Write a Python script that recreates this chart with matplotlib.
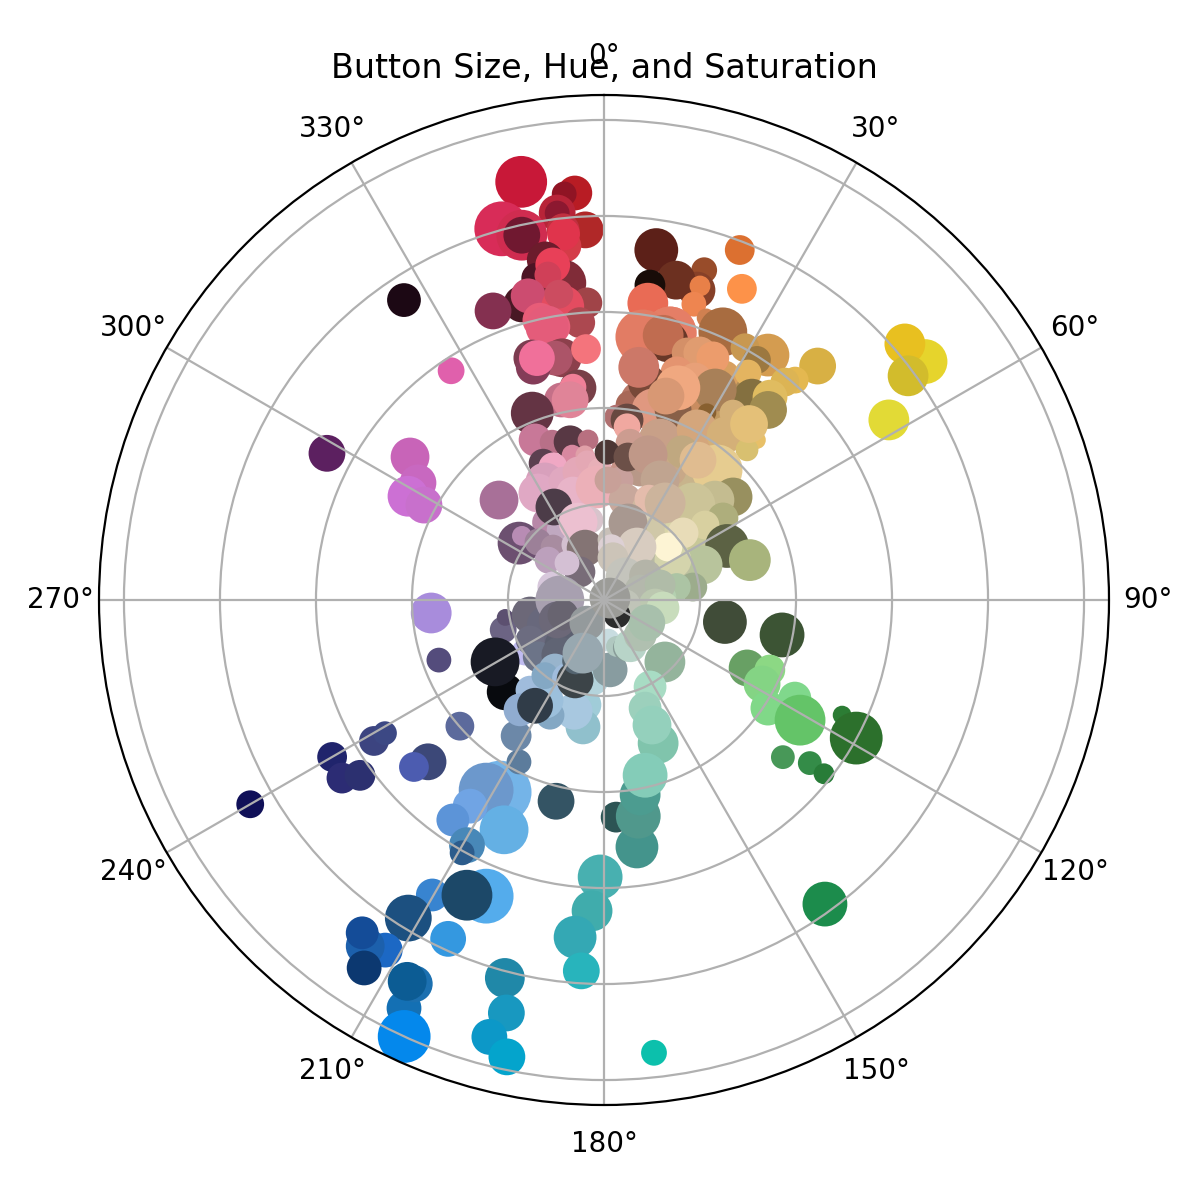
import numpy as np
import matplotlib
matplotlib.use("Agg")
import matplotlib.pyplot as plt

title = "Button Size, Hue, and Saturation"

reds_hue = [348.8, 355.9, 354.4, 353.1, 353.1, 344.6, 347.3, 357.1, 353.7, 347.3, 353.7, 353.7,
            350.2, 348.2, 352.6, 351.3, 350.2, 344.5, 339.0, 346.0, 356.7, 352.0, 351.6, 355.0,
            347.1, 349.4, 348.2, 350.2, 348.6, 343.4, 343.1, 344.5, 355.9, 326.3]
reds_sat = [.888, .85, .85, .812, .812, .802, .779, .772, .776, .779, .742, .767,
            .719, .685, .666, .706, .687, .64, .645, .653, .62, .617, .644, .58,
            .598, .579, .581, .512, .514, .526, .507, .523, .524, .751]
reds_size = [49, 32, 22, 34, 22, 52, 48, 34, 30, 34, 30, 30,
             34, 28, 44, 32, 24, 34, 34, 32, 28, 40, 26, 28,
             32, 32, 40, 36, 32, 34, 32, 33, 27, 31]
reds_color = ["#c81838", "#b81c24", "#901424", "#b82438", "#8c1830", "#d82c58", "#d02c50", "#b02828", "#c03040", "#701830", "#d43c48", "#e0344c",
              "#6c1c2c", "#4c1424", "#802c38", "#e84058", "#d04058", "#481824", "#843050", "#cc4c70", "#a04448", "#e44c60", "#cc4c60", "#ac4850",
              "#e85c78", "#e8607c", "#e45c7a", "#8c404c", "#ac5468", "#7c3c50", "#843c58", "#f0709a", "#f4747c", "#1c0814"]

pinks_hue = [306.4, 302.2, 297.9, 297.8, 297.9, 326.3, 353.0, 348.0, 351.7, 350.4, 339.0, 336.7, 341.8,
             347.9, 354.3, 347.6, 352.5, 336.0, 339.0, 333.4, 328.3, 341.0, 348.5, 353.0, 352.4, 358.2, 343.8, 356.5,
             313.6, 324.0, 327.9, 331.7, 303.8, 308.0, 311.3, 316.1, 305.5, 332.2, 350.0, 341.6, 340.0, 319.4, 315.0, 284.3]
pinks_sat = [.502, .458, .462, .424, .653, .574, .445, .426, .448, .423, .417, .363, .346,
             .337, .335, .309, .305, .312, .297, .275, .262, .262, .272, .29, .221, .271, .232, .236,
             .302, .2, .172, .22, .213, .217, .183, .153, .143, .13, .169, .171, .115, .077, .109, .11]
pinks_size = [36, 34, 38, 34, 34, 24, 34, 32, 24, 34, 40, 30, 22,
              30, 18, 18, 16, 26, 26, 36, 36, 26, 28, 20, 24, 22, 30, 40,
              36, 28, 24, 34, 40, 17, 24, 22, 24, 24, 24, 36, 34, 28, 22, 28]
pinks_color = ["#c864b8", "#c868c0", "#cc70d4", "#c870cc", "#5c2060", "#e060ac", "#784048", "#c47088", "#f08098", "#e08498", "#643444", "#c87898", "#b87088",
               "#583844", "#b87080", "#d888a0", "#e0a0a8", "#5c4050", "#f0a8c4", "#d8a0bc", "#e0a8c4", "#e0a8c0", "#e4a8b8", "#e4a8b4", "#d0a8a8", "#e8b0b8", "#e8b4c8", "#ecb0b8",
               "#a87098", "#b888a8", "#c0a8c0", "#4c3c48", "#6c5070", "#b88cb4", "#9c8098", "#a88ca0", "#bca0bc", "#d4c0d0", "#d8c4cc", "#ecc0d0", "#847474", "#786c78", "#d4c0d4", "#d8c8dc"]

under_orange_hue = [23.3, 31.4, 26.8, 10.2, 7.6, 12.4, 32.6, 28.3]
under_orange_sat = [.454, .464, .444, .423, .41, .448, .507, .532]
under_orange_size = [36, 34, 30, 36, 26, 30, 30, 26]
under_orange_color = ["#d09870", "#c09860", "#c88c60", "#b87868", "#a86858", "#c08470", "#b08c58", "#d8a060"]

oranges_hue = [53.4, 49.6, 53.6, 57.7, 42.4, 21.2, 23.9, 8.5, 16.9, 16.7, 12.7, 8.3, 17.0, 16.9, 8.4, 13.9,
               19.9, 23.9, 33.8, 29.2, 32.5, 41.0, 39.7, 32.4, 36.1, 39.3, 40.8, 13.9, 8.4, 13.9, 12.6,
               18.6, 21.2, 24.2, 17.8, 22.5, 27.9, 11.2, 8.5, 14.5, 20.0, 19.2, 16.9, 34.6, 43.7, 28.8]
oranges_sat = [.833, .823, .787, .702, .66, .782, .709, .737, .718, .674, .683, .663, .684, .644, .625, .573,
               .625, .611, .614, .602, .593, .607, .59, .56, .523, .546, .523, .573, .554, .554, .565,
               .543, .552, .553, .497, .496, .495, .461, .49, .409, .421, .468, .444, .473, .461, .445]
oranges_size = [42, 38, 38, 38, 34, 27, 27, 41, 23, 34, 36, 28, 18, 22, 38, 50,
                16, 46, 40, 26, 25, 24, 26, 24, 34, 32, 35, 50, 52, 38, 38,
                28, 30, 30, 30, 32, 40, 35, 38, 40, 34, 42, 34, 24, 15, 16]
oranges_color = ["#e6d42c", "#e8c020", "#d2bc2c", "#e2da36", "#d8b044", "#dc7030", "#fd9249", "#5c2018", "#984c2a", "#864028", "#6c3020", "#180c08", "#e88048", "#ee8550", "#e96b55", "#e57e66",
                 "#d08050", "#a86c40", "#d49c50", "#c89850", "#9c7840", "#e4b850", "#dcb454", "#e4b460", "#847040", "#e0bc60", "#a08c50", "#e57e66", "#e27c64", "#683828", "#c06c50",
                 "#d49068", "#e09c70", "#ec9c6c", "#e49470", "#e8a078", "#a88058", "#784838", "#cc7868", "#e09880", "#886048", "#f0a880", "#d89874", "#d4b078", "#e8c068", "#886030"]

under_tan_hue = [19.3, 9.2, 15.5, 7.6, 11.9, 27.0, 38.0, 44.0, 26.9, 25.6, 38.7, 47.4, 55.1, 45.6, 70.8, 56.9, 20.9, 5.7, 1.9]
under_tan_sat = [.353, .274, .281, .252, .213, .21, .291, .348, .304, .173, .187, .215, .218, .134, .19, .114, .123, .126, .25]
under_tan_size = [40, 26, 30, 24, 30, 34, 34, 30, 30, 26, 30, 28, 30, 30, 30, 30, 28, 22, 24]
under_tan_color = ["#c8a088", "#c89488", "#b89888", "#c8a09c", "#c8a89c", "#d0b8a0", "#c8b48c", "#b8ac78", "#c8a888", "#d8d0bc", "#d0c8a8", "#d8d4a8", "#c8c898", "#c8c8a8", "#b8c49c", "#b8b8a4", "#ccc8c0", "#c8c0b8", "#c8a098"]

tans_hue = [4.0, 7.3, 7.6, 9.4, 1.2, 9.5, 28.7, 36.3, 43.6, 27.8, 41.0, 33.9, 51.4, 48.0, 43.1, 55.4, 53.4,
            16.9, 25.0, 24.0, 32.2, 39.5]
tans_sat = [.382, .378, .364, .331, .308, .302, .404, .426, .432, .349, .359, .351, .344, .311, .271, .301, .262,
            .316, .276, .23, .239, .475]
tans_size = [22, 30, 24, 26, 22, 26, 38, 34, 20, 30, 48, 34, 36, 36, 42, 28, 26,
             36, 36, 26, 38, 35]
tans_color = ["#b07070", "#684840", "#f0a8a0", "#cc9c90", "#4c3634", "#6c5048", "#d4a67c", "#d4b078", "#d8c070", "#c0a880", "#e6cc90", "#e0bc90", "#98905f", "#c4bc90", "#ccc498", "#aeae7c", "#d8d0a0",
              "#c09888", "#c0a490", "#e4bcac", "#ccb49c", "#e4c078"]

pale_hue = [66.3, 74.7, 70.5, 49.7, 64.1, 59.9, 50.4, 81.7, 79.9, 87.0, 17.3, 31.9, 8.0, 12.0, 42.4, 60.0, 74.5, 75.0, 95.6]
pale_sat = [.28, .315, .219, .216, .157, .166, .173, .187, .154, .127, .168, .13, .11, .09, .065, .1, .078, .121, .107]
pale_size = [41, 39, 36, 28, 34, 34, 26, 26, 25, 20, 36, 36, 24, 28, 36, 30, 28, 28, 30]
pale_color = ["#5c6244", "#a8b47c", "#b8c49c", "#e8dcb8", "#bcc0a0", "#d4d4ac", "#fdf4d4", "#9cac8c", "#acc4a4", "#b4d0b0",
              "#a89890", "#d8ccc0", "#ddd0d4", "#ccc4b8", "#c4c4bc", "#b4b4a8", "#b4b8ac", "#b0bca8", "#bcc8b0"]

greens_hue = [100.3, 101.1, 115.4, 112.9, 118.0, 123.4, 117.2, 121.5, 115.8, 118.7, 131.3, 128.4, 128.3, 144.0]
greens_sat = [.256, .378, .33, .375, .373, .409, .447, .479, .551, .599, .496, .547, .584, .783]
greens_size = [41, 42, 34, 28, 34, 32, 30, 48, 16, 50, 21, 21, 18, 42]
greens_color = ["#404c38", "#3c5434", "#68a064", "#8cd884", "#84d484", "#80d888", "#80d88c", "#64c468", "#2c7c34", "#2c702c", "#489858", "#348c48", "#287c38", "#1c8c4c"]

teals_hue = [135.5, 152.1, 159.2, 159.3, 159.0, 176.8, 172.4, 171.0, 169.5, 166.8, 173.7, 180.8, 182.2, 184.9, 183.5]
teals_sat = [.181, .205, .241, .319, .279, .453, .519, .456, .413, .375, .949, .577, .648, .705, .774]
teals_size = [38, 30, 30, 38, 36, 28, 40, 42, 38, 42, 23, 42, 38, 40, 34]
teals_color = ["#94b49c", "#a8dcc4", "#9cd0bc", "#80c4ac", "#94d0bc", "#2c5454", "#44948c", "#50988c", "#4c9c90", "#84ccb8", "#0cc0ac", "#48b0b0", "#40acac", "#34a8b4", "#28b4bc"]

blues_hue = [194.7, 193.3, 194.7, 192.0, 206.1, 206.3, 207.3, 204.6, 204.7, 210.2, 211.6, 201.7, 204.9, 212.0, 214.6, 216.0, 213.1,
             208.4, 211.8, 203.5, 213.0, 214.5, 209.2, 209.3, 193.4, 207.7, 212.9, 228.8]
blues_sat = [.814, .884, .941, .973, .947, .892, .894, 1.0, .777, .711, .778, .664, .678, .86, .876, .857, .915,
             .455, .466, .522, .512, .556, .585, .604, .431, .381, .337, .399]
blues_size = [37, 34, 33, 34, 32, 34, 36, 50, 33, 30, 44, 52, 48, 32, 36, 30, 32,
              60, 52, 46, 32, 30, 33, 22, 34, 22, 28, 26]
blues_color = ["#2088a8", "#1898c0", "#0c98c8", "#04a4cc", "#1470b4", "#1c70b0", "#0c5c94", "#0488ec", "#3498e0", "#3884d0", "#1c5080", "#54acec", "#1c4868", "#1c68c4", "#1c60ac", "#144c98", "#0c3870",
               "#74b4e8", "#6c98cc", "#64b0e4", "#70a4e4", "#5c94d8", "#4888b8", "#2c5c8c", "#345464", "#5c7c9c", "#6c88a8", "#5c6a9c"]

navy_hue = [250.0, 265.7, 240.0, 240.0, 235.8, 234.3, 238.5, 238.7, 227.4, 228.7]
navy_sat = [.366, .361, .654, .851, .66, .626, .562, .534, .498, .527]
navy_size = [22, 38, 27, 25, 28, 28, 27, 21, 34, 27]
navy_color = ["#544c7c", "#a88cdc", "#20246c", "#101058", "#2c2c74", "#2c3070", "#3c4480", "#3c4884", "#3c4878", "#4c5cb0"]

greyblue_hue = [227.1, 253.5, 260.0, 236.6, 258.5, 247.0, 241.6, 229.2, 240.4, 250.0, 223.0, 218.7, 190.3, 189.4, 195.0, 205.1, 210.5, 219.4, 215.0, 218.0, 217.4, 205.0,
                187.8, 175.0, 198.0, 199.9, 205.0, 213.1, 174.0, 165.0, 155.0, 150.0, 134.0, 103.0, 97.7, 118.0]
greyblue_sat = [.281, .219, .209, .197, .157, .133, .175, .181, .261, .091, .128, .147, .222, .268, .24, .265, .242, .243, .178, .2, .288, .18,
                .168, .146, .1, .177, .14, .263, .084, .1, .11, .11, .105, .045, .124, .101]
greyblue_size = [34, 24, 14, 24, 34, 34, 26, 28, 46, 28, 32, 34, 30, 32, 34, 26, 34, 26, 30, 24, 30, 28,
                 28, 32, 22, 34, 24, 33, 20, 18, 24, 30, 30, 28, 30, 34]
greyblue_color = ["#080a0e", "#6c6484", "#5c5070", "#c0bcf0", "#6c6878", "#68687c", "#6c6c80", "#6c7488", "#181a24", "#787484", "#5c6070", "#606474", "#a0ccd8", "#90c0cc", "#a8c8e0", "#84a8c4", "#9cc0dc", "#a0bcdc", "#98b4cc", "#84a8c4", "#90acd0", "#a0bcdc",
                  "#b4d4dc", "#889ca0", "#c4dce0", "#3c4448", "#546470", "#303c48", "#c8dce0", "#b0c8c0", "#889c98", "#b8d4c8", "#b0c0b0", "#c0c4b8", "#c8dcbc", "#a8c0ac"]

centre_hue = [270.0, 247.0, 250.0, 216.5, 201.6, 139.0, 72.0]
centre_sat = [.092, .106, .091, .06, .119, .041, .013]
centre_size = [46, 34, 28, 32, 38, 24, 38]
centre_color = ["#a8a0b0", "#6c6878", "#686470", "#949a9c", "#98a8b0", "#2c2c2c", "#9c9c98"]

groups = [
    (reds_hue, reds_sat, reds_size, reds_color),
    (pinks_hue, pinks_sat, pinks_size, pinks_color),
    (under_orange_hue, under_orange_sat, under_orange_size, under_orange_color),
    (oranges_hue, oranges_sat, oranges_size, oranges_color),
    (under_tan_hue, under_tan_sat, under_tan_size, under_tan_color),
    (tans_hue, tans_sat, tans_size, tans_color),
    (pale_hue, pale_sat, pale_size, pale_color),
    (greens_hue, greens_sat, greens_size, greens_color),
    (teals_hue, teals_sat, teals_size, teals_color),
    (blues_hue, blues_sat, blues_size, blues_color),
    (navy_hue, navy_sat, navy_size, navy_color),
    (greyblue_hue, greyblue_sat, greyblue_size, greyblue_color),
    (centre_hue, centre_sat, centre_size, centre_color),
]

fig = plt.figure(figsize=(6, 6), dpi=200)
ax = fig.add_axes([99/1200, 95/1200, 1010/1200, 1010/1200], projection="polar")
ax.set_theta_zero_location("N")
ax.set_theta_direction(-1)
for hue, sat, size, color in groups:
    assert len(hue) == len(sat) == len(size) == len(color), (len(hue), len(sat), len(size), len(color), color[0])
    ax.scatter(np.deg2rad(hue), sat, s=(0.36*np.array(size))**2, c=color)
ax.set_rlim(0, 1.052)
ax.set_rticks([0.2, 0.4, 0.6, 0.8, 1.0])
ax.set_yticklabels([])
ax.set_thetagrids(np.arange(0, 360, 30))
ax.set_title(title, y=1.0)
fig.savefig("out.png", dpi=200)
